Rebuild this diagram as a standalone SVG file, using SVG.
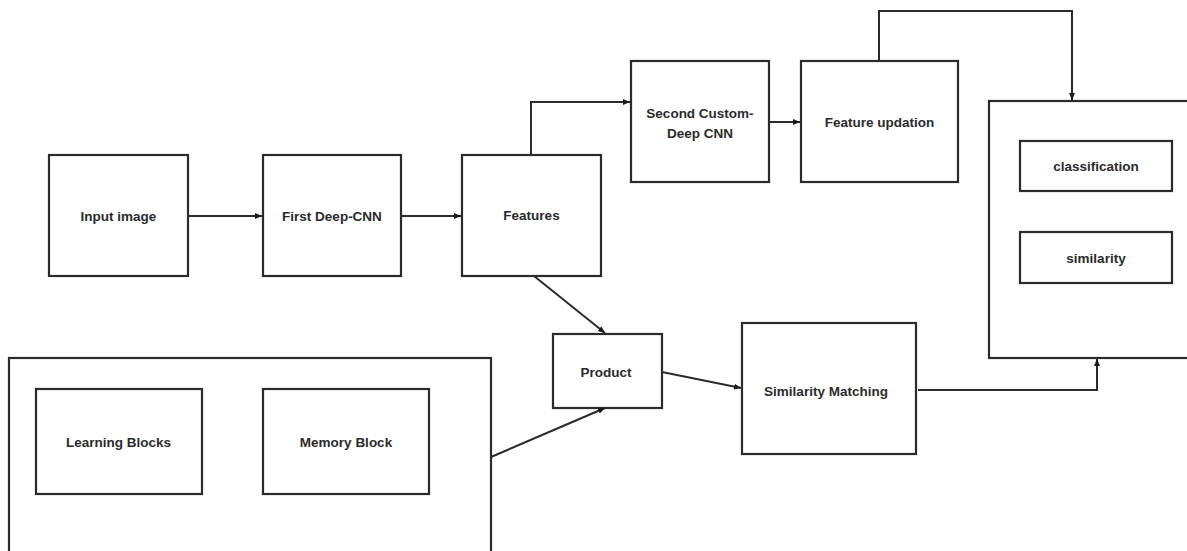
<svg xmlns="http://www.w3.org/2000/svg" width="1187" height="551" viewBox="0 0 1187 551">
<defs>
<style>
.box{fill:#fff;stroke:#2b2b2b;stroke-width:2.2}
.lbl{font-family:"Liberation Sans",Arial,sans-serif;font-weight:700;font-size:13.5px;fill:#2b2b2b;text-anchor:middle;dominant-baseline:central}
.con{fill:none;stroke:#2b2b2b;stroke-width:2}
</style>
<marker id="arr" markerUnits="userSpaceOnUse" markerWidth="8" markerHeight="8" refX="7" refY="3.5" orient="auto">
<path d="M0,0.5 L7,3.5 L0,6.5 Z" fill="#1a1a1a"/>
</marker>
</defs>
<rect width="1187" height="551" fill="#fff"/>
<g id="input-image"><rect class="box" x="49" y="155" width="139" height="121"/><text class="lbl" x="118.5" y="216">Input image</text></g>
<g id="first-deep-cnn"><rect class="box" x="263" y="155" width="138" height="121"/><text class="lbl" x="332" y="216">First Deep-CNN</text></g>
<g id="features"><rect class="box" x="462" y="155" width="139" height="121"/><text class="lbl" x="531.5" y="215">Features</text></g>
<g id="second-cnn"><rect class="box" x="631" y="61" width="138" height="121"/><text class="lbl" x="700" y="113">Second Custom-</text><text class="lbl" x="700" y="133">Deep CNN</text></g>
<g id="feature-updation"><rect class="box" x="801" y="61" width="157" height="121"/><text class="lbl" x="879.5" y="122">Feature updation</text></g>
<g id="output"><rect class="box" x="989" y="101" width="210" height="257"/>
<g id="classification"><rect class="box" x="1020" y="141" width="152" height="50"/><text class="lbl" x="1096" y="166">classification</text></g>
<g id="similarity"><rect class="box" x="1020" y="232" width="152" height="51"/><text class="lbl" x="1096" y="258">similarity</text></g>
</g>
<g id="product"><rect class="box" x="553" y="334" width="109" height="74"/><text class="lbl" x="606" y="372">Product</text></g>
<g id="similarity-matching"><rect class="box" x="742" y="323" width="174" height="131"/><text class="lbl" x="826" y="391">Similarity Matching</text></g>
<g id="learning-memory"><rect class="box" x="9" y="358" width="482" height="200"/>
<g id="learning-blocks"><rect class="box" x="36" y="389" width="166" height="105"/><text class="lbl" x="118.5" y="442">Learning Blocks</text></g>
<g id="memory-block"><rect class="box" x="263" y="389" width="166" height="105"/><text class="lbl" x="346" y="442">Memory Block</text></g>
</g>
<g id="connectors">
<path class="con" d="M188,216 H262" marker-end="url(#arr)"/>
<path class="con" d="M401,216 H461" marker-end="url(#arr)"/>
<path class="con" d="M531,155 V102 H630" marker-end="url(#arr)"/>
<path class="con" d="M769,122 H800" marker-end="url(#arr)"/>
<path class="con" d="M879,61 V11 H1072 V100" marker-end="url(#arr)"/>
<path class="con" d="M534,276 L605,333" marker-end="url(#arr)"/>
<path class="con" d="M491,457 L605,408" marker-end="url(#arr)"/>
<path class="con" d="M662,372 L741,388" marker-end="url(#arr)"/>
<path class="con" d="M918,390 H1097 V359" marker-end="url(#arr)"/>
</g>
</svg>
